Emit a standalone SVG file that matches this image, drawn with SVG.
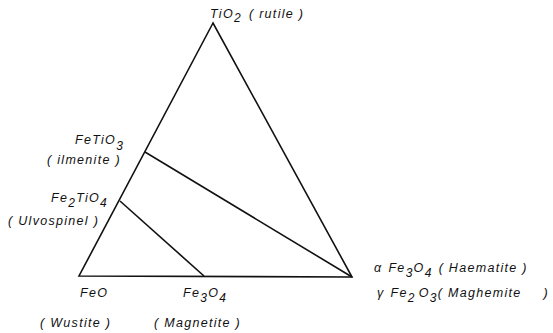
<svg xmlns="http://www.w3.org/2000/svg" width="553" height="333" viewBox="0 0 553 333">
<style>
text{font-family:"Liberation Sans",Arial,sans-serif;font-style:italic;font-size:12.5px;letter-spacing:1.3px;fill:#111}
.sub{font-size:12px}
line,polygon{stroke:#111;stroke-width:1.6;fill:none}
</style>
<rect width="553" height="333" fill="#fff"/>
<g id="triangle"><polygon points="213,23 79,276 352,277"/></g>
<g id="connectors">
<line x1="145" y1="152" x2="352" y2="277"/>
<line x1="120" y1="201" x2="204" y2="276"/>
</g>
<g id="rutile"><text x="210" y="18">TiO<tspan class="sub" dy="4">2</tspan><tspan dy="-4" dx="7">( rutile )</tspan></text></g>
<g id="ilmenite"><text x="75" y="144">FeTiO<tspan class="sub" dy="6">3</tspan></text><text x="47" y="164">( ilmenite )</text></g>
<g id="ulvospinel"><text x="51" y="202">Fe<tspan class="sub" dy="5">2</tspan><tspan dy="-5">TiO</tspan><tspan class="sub" dy="5">4</tspan></text><text x="8" y="225">( Ulvospinel )</text></g>
<g id="wustite"><text x="80" y="297">FeO</text><text x="40" y="327">( Wustite )</text></g>
<g id="magnetite"><text x="183" y="297">Fe<tspan class="sub" dy="5">3</tspan><tspan dy="-5">O</tspan><tspan class="sub" dy="5">4</tspan></text><text x="154" y="327">( Magnetite )</text></g>
<g id="haematite"><text x="374" y="272">α<tspan dx="6">Fe</tspan><tspan class="sub" dy="5">3</tspan><tspan dy="-5">O</tspan><tspan class="sub" dy="5">4</tspan><tspan dy="-5" dx="6">( Haematite )</tspan></text><text x="377" y="297">γ<tspan dx="6">Fe</tspan><tspan class="sub" dy="5">2</tspan><tspan dy="-5" dx="3">O</tspan><tspan class="sub" dy="5">3</tspan><tspan dy="-5">( Maghemite</tspan><tspan dx="22">)</tspan></text></g>
</svg>
